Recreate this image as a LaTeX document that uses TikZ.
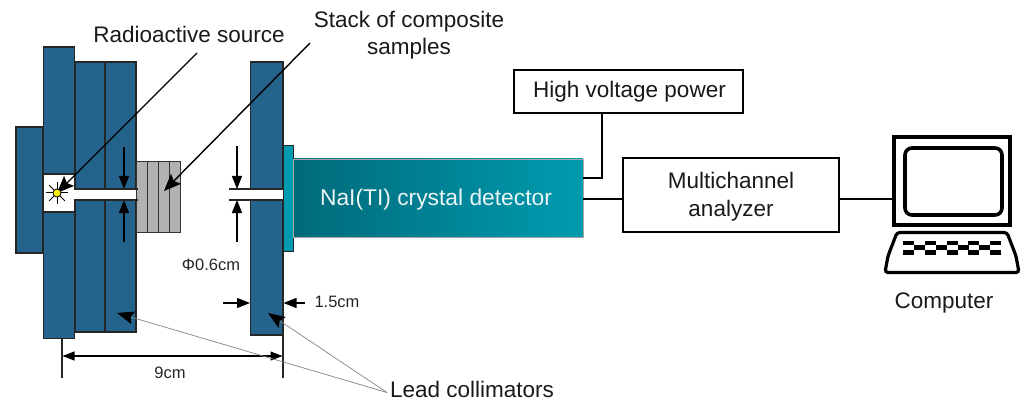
\documentclass[tikz,border=0pt]{standalone}
\usepackage{fontspec}
\setmainfont{Liberation Sans}
\usetikzlibrary{arrows.meta,calc}
\definecolor{leadblue}{RGB}{36,100,140}
\definecolor{tealthin}{RGB}{0,155,176}
\definecolor{tealdark}{RGB}{0,106,122}
\definecolor{teallight}{RGB}{0,155,176}
\definecolor{samplegray}{RGB}{178,178,178}
\definecolor{leadergray}{RGB}{130,130,130}
\newcommand{\blk}[6]{\node[#1,minimum width={#5-#3},minimum height={#6-#4}] (#2) at ({(#3+#5)/2},{(#4+#6)/2}) {};}
\tikzset{
  basebox/.style={rectangle,inner sep=0pt,outer sep=0pt},
  lead/.style={basebox,draw=black!85,line width=1.1pt,fill=leadblue},
  sample/.style={basebox,draw=black!80,line width=1pt,fill=samplegray},
  thinteal/.style={basebox,draw=black!85,line width=1pt,fill=tealthin},
  detector/.style={basebox,draw=black!35,line width=0.8pt,left color=tealdark,right color=teallight},
  dettext/.style={inner sep=0pt,outer sep=0pt,font=\fontsize{22.8}{27}\selectfont,text=white!92!teal},
  labelbox/.style={basebox,draw=black,line width=1.8pt,fill=white},
  big/.style={inner sep=0pt,outer sep=0pt,align=center,font=\fontsize{22.5}{27.5}\selectfont,text=black!90},
  small/.style={inner sep=0pt,outer sep=0pt,font=\fontsize{16.5}{20}\selectfont,text=black!85},
  wire/.style={draw=black,line width=1.8pt},
  dim/.style={draw=black,line width=1.1pt,-{Triangle[length=13pt,width=10pt]}},
  dimboth/.style={draw=black,line width=1.1pt,{Triangle[length=12pt,width=9pt]}-{Triangle[length=12pt,width=9pt]}},
  tick/.style={draw=black!85,line width=1.1pt},
  pointer/.style={draw=black,line width=1.4pt,-{Stealth[length=17pt,width=14pt,inset=3pt]}},
  greyptr/.style={draw=leadergray,line width=0.7pt,-{Stealth[length=17pt,width=13pt,inset=3pt,color=black]}},
  ray/.style={draw=black,line width=1pt},
  key/.style={fill=black,draw=none},
}
\begin{document}
\begin{tikzpicture}[x=1pt,y=-1pt]
\useasboundingbox (0,0) rectangle (1026,401);
% left collimators
\blk{lead}{back}{16}{127}{43}{253}
\blk{lead}{btop}{43.5}{47}{74.5}{174}
\blk{lead}{blow}{43.5}{212}{74.5}{338.5}
\blk{lead}{ctop}{75}{62}{105}{189}
\blk{lead}{clow}{75}{200}{105}{332}
\blk{lead}{dtop}{105}{62}{136}{189}
\blk{lead}{dlow}{105}{200}{136}{332}
% samples
\blk{sample}{sa}{136}{162}{147}{232}
\blk{sample}{sb}{147}{162}{158}{232}
\blk{sample}{sc}{158}{162}{169}{232}
\blk{sample}{sd}{169}{162}{180}{232}
% right collimator
\blk{lead}{rtop}{250.5}{62}{283}{189}
\blk{lead}{rlow}{250.5}{200}{283}{335}
\blk{thinteal}{win}{283}{145.5}{293.5}{251}
% detector
\node[detector,minimum width=289.5,minimum height=78] (det) at (438.2,198) {};
\node[dettext] (dettxt) at (436,200) {NaI(TI) crystal detector};
% boxes
\node[labelbox,minimum width=229,minimum height=43] (hv) at (628.5,91.5) {};
\node[big] (hvtxt) at (629.5,92) {High voltage power};
\node[labelbox,minimum width=216,minimum height=74] (mca) at (731,195) {};
\node[big] (mcatxt) at (731,196.5) {Multichannel\\analyzer};
% computer
\node[basebox,draw=black,line width=3.4pt,minimum width=116,minimum height=88] (monitor) at (952,181) {};
\node[basebox,draw=black,line width=3.6pt,rounded corners=7pt,minimum width=97,minimum height=67] (screen) at (953.5,181.5) {};
\draw[black,line width=3.2pt,rounded corners=3pt] (897,232.5) -- (1007,232.5) -- (1016,256) -- (1019,272.5) -- (885,272.5) -- (888,256) -- cycle;
\foreach \k in {908,930,952,973.5,995}{
  \fill[key] (\k-5.5,240.5) rectangle (\k+5.5,245);
  \fill[key] (\k-5.5,250) rectangle (\k+5.5,254.5);
}
\foreach \k in {913.5,935.5,957.5,979}{
  \fill[key] (\k,245) rectangle (\k+11,249.5);
}
% wires
\draw[wire] ([yshift=20pt]det.east) -| ([xshift=-26.5pt]hv.south);
\draw[wire] ([yshift=-1pt]det.east) -- ([yshift=-1pt]det.east -| mca.west);
\draw[wire] ([yshift=-4pt]mca.east) -- ([yshift=-4pt]mca.east -| monitor.west);
% labels
\node[big] (lblsrc) at (189,34) {Radioactive source};
\node[big] (lblstack) at (409,35) {Stack of composite\\samples};
\node[big] (lbllead) at (472,389) {Lead collimators};
\node[big] (lblcomp) at (944,303) {Computer};
\node[small] (lblphi) at (211,265) {Φ0.6cm};
\node[small] (lblwidth) at (337,302) {1.5cm};
\node[small] (lblnine) at (170,372.5) {9cm};
% source and its pointer
\coordinate (srcc) at (57,193);
\coordinate (ps) at (197,53);
\coordinate (pt) at (310,43);
\coordinate (pst) at (164,191);
\foreach \a in {0,45,...,315}{\draw[ray] (srcc) -- ++(\a:11);}
\draw[pointer] (ps) -- (srcc);
\node[circle,draw=black,line width=0.8pt,fill=yellow,minimum size=8pt,inner sep=0pt] (source) at (srcc) {};
\draw[pointer] (pt) -- (pst);
% slit dimension, left
\coordinate (la) at (124,147);
\coordinate (lb) at (124,189);
\coordinate (lc) at (124,242);
\coordinate (ld) at (124,200);
\draw[dim] (la) -- (lb);
\draw[dim] (lc) -- (ld);
\draw[tick] (116,189) -- (137.5,189);
\draw[tick] (116,200) -- (137.5,200);
% slit dimension, right
\coordinate (ra) at (237,146);
\coordinate (rb) at (237,189);
\coordinate (rc) at (237,242);
\coordinate (rd) at (237,200);
\draw[dim] (ra) -- (rb);
\draw[dim] (rc) -- (rd);
\draw[tick] (rtop.south west) -- ++(-22,0);
\draw[tick] (rlow.north west) -- ++(-22,0);
% thickness dimension
\coordinate (wa) at (223,303);
\coordinate (wb) at (250,303);
\coordinate (wc) at (305,303);
\coordinate (wd) at (283.5,303);
\draw[dim] (wa) -- (wb);
\draw[dim] (wc) -- (wd);
% 9cm dimension
\coordinate (na) at (62,338.5);
\coordinate (nb) at (62,378);
\coordinate (nc) at (283,335);
\coordinate (nd) at (283,378);
\coordinate (ne) at (62.5,356);
\coordinate (nf) at (282.5,356);
\draw[tick] (na) -- (nb);
\draw[tick] (nc) -- (nd);
\draw[dimboth] (ne) -- (nf);
% grey leaders
\coordinate (lj) at (387,392.5);
\coordinate (lt) at (117,313);
\coordinate (lu) at (268,313);
\draw[greyptr] (lj) -- (lt);
\draw[greyptr] (lj) -- (lu);
\end{tikzpicture}
\end{document}
